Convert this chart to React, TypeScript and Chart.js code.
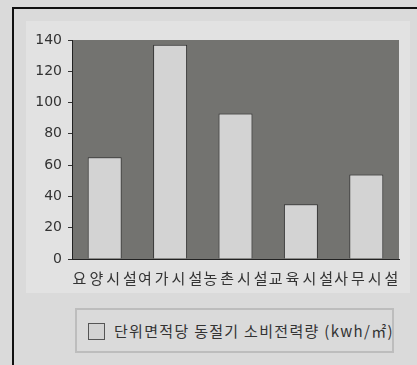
import React, { useEffect, useRef } from "react";
import { Chart, registerables } from "chart.js";

Chart.register(...registerables);

const categories = ["요양시설", "여가시설", "농촌시설", "교육시설", "사무시설"];
const seriesLabel = "단위면적당 동절기 소비전력량 (kwh/㎡)";
const seriesValues = [65, 137, 93, 35, 54];
const yTicks = [0, 20, 40, 60, 80, 100, 120, 140];

const plotBg = {
  id: "plotBg",
  beforeDraw(chart: any) {
    const { ctx, chartArea } = chart;
    ctx.save();
    ctx.fillStyle = "#737370";
    ctx.fillRect(chartArea.left, chartArea.top, chartArea.right - chartArea.left, chartArea.bottom - chartArea.top);
    ctx.restore();
  },
};

const xSpacing = {
  id: "xSpacing",
  afterLayout(chart: any) {
    const xs = chart.scales.x;
    if (!xs || xs.__spaced) return;
    const orig = xs.drawLabels.bind(xs);
    xs.drawLabels = (area: any) => {
      const ctx = chart.ctx;
      ctx.save();
      ctx.letterSpacing = "3px";
      ctx.translate(1.5, 0);
      orig(area);
      ctx.restore();
    };
    xs.__spaced = true;
  },
};

export default function App() {
  const ref = useRef<HTMLCanvasElement>(null);
  useEffect(() => {
    if (!ref.current) return;
    const chart = new Chart(ref.current, {
      type: "bar",
      data: {
        labels: categories,
        datasets: [
          {
            label: seriesLabel,
            data: seriesValues,
            backgroundColor: "#d3d3d3",
            borderColor: "#333333",
            borderWidth: 1,
            categoryPercentage: 1,
            barPercentage: 0.52,
          },
        ],
      },
      options: {
        animation: false,
        responsive: false,
        layout: { padding: { left: 0, right: 11, top: 19, bottom: 0 } },
        plugins: { legend: { display: false }, tooltip: { enabled: false } },
        scales: {
          x: {
            grid: { display: false },
            border: { display: true, color: "#222222", width: 1 },
            ticks: {
              autoSkip: false,
              maxRotation: 0,
              minRotation: 0,
              padding: 2,
              color: "#333333",
              font: { family: "'Noto Sans CJK KR'", size: 15 },
            },
            afterFit: (s: any) => {
              s.height = 34;
            },
          },
          y: {
            min: 0,
            max: 140,
            afterBuildTicks: (s: any) => {
              s.ticks = yTicks.map((v) => ({ value: v }));
            },
            grid: { display: true, drawOnChartArea: false, drawTicks: true, tickLength: 4, color: "#333333" },
            border: { display: true, color: "#222222", width: 1 },
            ticks: {
              padding: 6,
              color: "#333333",
              font: { family: "'DejaVu Sans'", size: 14 },
            },
            afterFit: (s: any) => {
              s.width = 46;
            },
          },
        },
      },
      plugins: [plotBg, xSpacing],
    });
    return () => chart.destroy();
  }, []);

  return (
    <div style={{ position: "fixed", left: 0, top: 0, width: 417, height: 365, background: "#dadada", overflow: "hidden" }}>
      <div
        style={{
          position: "absolute",
          left: 12,
          top: 7,
          width: 420,
          height: 380,
          borderLeft: "2px solid #111",
          borderTop: "2px solid #111",
        }}
      />
      <div
        style={{
          position: "absolute",
          left: 26,
          top: 21,
          width: 384,
          height: 272,
          background: "#e2e2e2",
        }}
      >
        <canvas ref={ref} width={384} height={272} style={{ display: "block" }} />
      </div>
      <div
        style={{
          position: "absolute",
          left: 75,
          top: 308,
          width: 315,
          height: 41,
          border: "2px solid #bdbdbd",
          overflow: "hidden",
          whiteSpace: "nowrap",
        }}
      >
        <div
          style={{
            position: "absolute",
            left: 11,
            top: 13,
            width: 15,
            height: 15,
            border: "1px solid #555",
            background: "#d3d3d3",
          }}
        />
        <div
          style={{
            position: "absolute",
            left: 37,
            top: 11,
            fontFamily: "'Noto Sans CJK KR'",
            fontSize: 15,
            lineHeight: "20px",
            letterSpacing: "1.3px",
            color: "#333",
          }}
        >
          {seriesLabel}
        </div>
      </div>
    </div>
  );
}
